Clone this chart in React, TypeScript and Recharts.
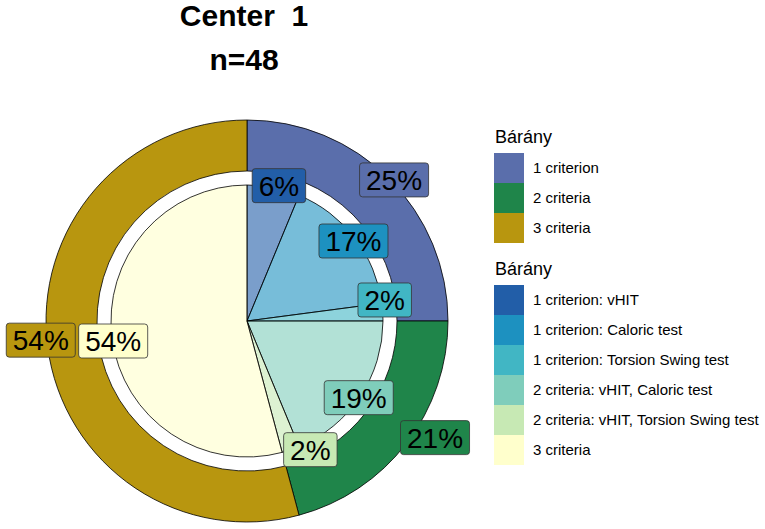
import React from 'react';
import { PieChart, Pie, Cell, Legend } from 'recharts';

const outerCategories = ['1 criterion', '2 criteria', '3 criteria'];
const outerValues = [12, 10, 26];
const outerColors = ['#5a6eab', '#1f854a', '#b8960f'];

const innerCategories = [
  '1 criterion: vHIT',
  '1 criterion: Caloric test',
  '1 criterion: Torsion Swing test',
  '2 criteria: vHIT, Caloric test',
  '2 criteria: vHIT, Torsion Swing test',
  '3 criteria',
];
const innerValues = [3, 8, 1, 9, 1, 26];
const innerColors = ['#225ea8', '#1d91c0', '#41b6c4', '#7fcdbb', '#c7e9b4', '#ffffcc'];

const legendTitle = 'Bárány';
const titleLines = ['Center  1', 'n=48'];

// label repel nudges (style, not data)
const outerNudge = [[0, 6], [23, -10], [0, -8]];
const innerNudge = [[5, 0], [-3, 4], [0, -12], [-3, 0], [19, -2], [3, 2]];

const outerData = outerCategories.map((name, i) => ({ name, value: outerValues[i] }));
const innerData = innerCategories.map((name, i) => ({ name, value: innerValues[i] }));

const FONT = '"Liberation Sans", Arial, Helvetica, sans-serif';
const RAD = Math.PI / 180;

const charW = (c: string) => (c === '%' ? 0.889 : 0.556);
const textWidth = (s: string, fs: number) => s.split('').reduce((a, c) => a + charW(c) * fs, 0);

const makeLabel = (colors: string[], offset: number, nudge: number[][]) => (props: any) => {
  const { cx, cy, midAngle, outerRadius, percent, index } = props;
  const r = outerRadius + offset;
  const x = cx + r * Math.cos(-midAngle * RAD) + nudge[index][0];
  const y = cy + r * Math.sin(-midAngle * RAD) + nudge[index][1];
  const txt = `${Math.round(percent * 100)}%`;
  const fs = 28;
  const w = textWidth(txt, fs) + 13;
  const h = 34;
  return (
    <g key={`lbl-${index}`}>
      <rect x={x - w / 2} y={y - h / 2} width={w} height={h} rx={3} ry={3}
        fill={colors[index]} stroke="#333" strokeWidth={0.8} />
      <text x={x} y={y + 10} textAnchor="middle" fontSize={fs} fontFamily={FONT} fill="#000">
        {txt}
      </text>
    </g>
  );
};

const renderLegend = () => {
  const rowH = 30;
  const b1Top = 35;
  const b2Title = 157;
  const b2Top = 167;
  return (
    <svg width={272} height={360} style={{ display: 'block' }}>
      <text x={2} y={25} fontSize={18} fontFamily={FONT} fill="#000">{legendTitle}</text>
      {outerCategories.map((c, i) => (
        <g key={`o${i}`}>
          <rect x={1} y={b1Top + i * rowH} width={30} height={rowH} fill={outerColors[i]} />
          <text x={40} y={b1Top + i * rowH + 20} fontSize={15} fontFamily={FONT} fill="#000">{c}</text>
        </g>
      ))}
      <text x={2} y={b2Title} fontSize={18} fontFamily={FONT} fill="#000">{legendTitle}</text>
      {innerCategories.map((c, i) => (
        <g key={`i${i}`}>
          <rect x={1} y={b2Top + i * rowH} width={30} height={rowH} fill={innerColors[i]} />
          <text x={40} y={b2Top + i * rowH + 20} fontSize={15} fontFamily={FONT} fill="#000">{c}</text>
        </g>
      ))}
    </svg>
  );
};

export default function App() {
  return (
    <div style={{ position: 'absolute', left: 0, top: 0, width: 765, height: 529, background: '#fff' }}>
      {titleLines.map((t, i) => (
        <div key={t} style={{
          position: 'absolute', left: 0, width: 488 + i * 0, top: 1 + i * 44, textAlign: 'center',
          fontFamily: FONT, fontWeight: 'bold', fontSize: 30, lineHeight: '30px', whiteSpace: 'pre', color: '#000',
        }}>{t}</div>
      ))}
      <PieChart width={765} height={529} margin={{ top: 0, right: 0, bottom: 0, left: 0 }}>
        <Pie data={outerData} dataKey="value" nameKey="name" cx={247} cy={321}
          innerRadius={150} outerRadius={201} startAngle={90} endAngle={-270}
          stroke="#000" strokeWidth={0.8} isAnimationActive={false}
          label={makeLabel(outerColors, 7, outerNudge)} labelLine={false}>
          {outerData.map((d, i) => <Cell key={d.name} fill={outerColors[i]} />)}
        </Pie>
        <Pie data={innerData} dataKey="value" nameKey="name" cx={247} cy={321}
          innerRadius={0} outerRadius={136} startAngle={90} endAngle={-270}
          stroke="#000" strokeWidth={0.8} isAnimationActive={false}
          label={makeLabel(innerColors, 2, innerNudge)} labelLine={false}>
          {innerData.map((d, i) => <Cell key={d.name} fill={innerColors[i]} fillOpacity={0.6} />)}
        </Pie>
        <Legend layout="vertical" align="right" verticalAlign="middle" content={renderLegend}
          wrapperStyle={{ position: 'absolute', left: 493, top: 118, right: 'auto', bottom: 'auto', width: 272, height: 360 }} />
      </PieChart>
    </div>
  );
}
